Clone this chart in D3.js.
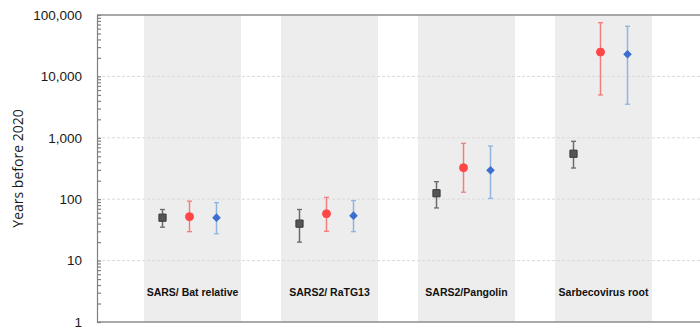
<!DOCTYPE html>
<html>
<head>
<meta charset="utf-8">
<script src="https://cdn.jsdelivr.net/npm/d3@7"></script>
<style>
  body { margin: 0; background: #fff; }
  svg { display: block; font-family: "Open Sans", sans-serif; }
</style>
</head>
<body>
<div class="chart"></div>
<script>
const groups = ["SARS/ Bat relative", "SARS2/ RaTG13", "SARS2/Pangolin", "Sarbecovirus root"];
const series = ["black", "red", "blue"];

// central estimate, lower and upper bound per group
const blackMid = [50, 40, 125, 550];
const blackLow = [35, 20, 72, 322];
const blackHigh = [68, 68, 193, 877];

const redMid = [52, 58, 326, 24900];
const redLow = [29.6, 30, 130, 4980];
const redHigh = [93, 107, 813, 75000];

const blueMid = [50, 54, 296, 22900];
const blueLow = [27.4, 29.6, 103, 3520];
const blueHigh = [88, 95, 735, 65500];

const yTicks = [1, 10, 100, 1000, 10000, 100000];

const W = 700, H = 329;
const plot = { left: 97, top: 15, bottom: 322, right: 700 };

const svg = d3.select(".chart").append("svg")
  .attr("width", W)
  .attr("height", H);

const xScale = d3.scaleBand()
  .domain(groups)
  .range([124, 672])
  .paddingInner(0.292)
  .paddingOuter(0.146);

const sScale = d3.scalePoint()
  .domain(series)
  .range([-30, 24]);

const yScale = d3.scaleLog()
  .domain([1, 100000])
  .range([plot.bottom, plot.top]);

// grey bands
svg.selectAll(".band")
  .data(groups)
  .enter()
  .append("rect")
  .attr("class", "band")
  .attr("x", d => xScale(d))
  .attr("y", plot.top)
  .attr("width", xScale.bandwidth())
  .attr("height", plot.bottom - plot.top)
  .attr("fill", "#ededed");

// dashed gridlines
svg.selectAll(".grid")
  .data(yTicks.slice(1, -1))
  .enter()
  .append("line")
  .attr("class", "grid")
  .attr("x1", plot.left)
  .attr("x2", plot.right)
  .attr("y1", d => yScale(d))
  .attr("y2", d => yScale(d))
  .attr("stroke", "#d9d9d9")
  .attr("stroke-width", 1)
  .attr("stroke-dasharray", "3,2");

// top and bottom border
svg.selectAll(".border")
  .data([yTicks[0], yTicks[yTicks.length - 1]])
  .enter()
  .append("line")
  .attr("class", "border")
  .attr("x1", plot.left)
  .attr("x2", plot.right)
  .attr("y1", d => yScale(d))
  .attr("y2", d => yScale(d))
  .attr("stroke", "#8c8c8c")
  .attr("stroke-width", 1.5);

// labels on the left
const yAxis = d3.axisLeft(yScale)
  .tickValues(yTicks)
  .tickSize(0)
  .tickPadding(15)
  .tickFormat(d3.format(","));

svg.append("g")
  .attr("class", "axis y-axis")
  .attr("transform", `translate(${plot.left},0)`)
  .call(yAxis)
  .call(g => g.select(".domain").remove())
  .selectAll("text")
  .attr("font-size", "13.5px")
  .attr("fill", "#1a1a1a");

// minor ticks inside the axis
const minor = [];
yTicks.slice(0, -1).forEach(t => {
  for (let k = 1; k < 10; k++) minor.push(t * k);
});
minor.push(100000);

const yMinor = d3.axisRight(yScale)
  .tickValues(minor)
  .tickSize(4)
  .tickFormat("");

svg.append("g")
  .attr("class", "axis y-minor")
  .attr("transform", `translate(${plot.left},0)`)
  .call(yMinor)
  .call(g => g.selectAll("line, path").attr("stroke", "#7f7f7f").attr("stroke-width", 1.2));

svg.append("text")
  .attr("class", "y-axis-title")
  .attr("text-anchor", "middle")
  .attr("transform", `translate(23, ${(plot.top + plot.bottom) / 2}) rotate(-90)`)
  .attr("font-size", "14px")
  .attr("fill", "#1a1a1a")
  .text("Years before 2020");

// group labels
svg.selectAll(".group-label")
  .data(groups)
  .enter()
  .append("text")
  .attr("class", "group-label")
  .attr("x", d => xScale(d) + xScale.bandwidth() / 2)
  .attr("y", 296)
  .attr("text-anchor", "middle")
  .attr("font-family", "'Liberation Sans', sans-serif")
  .attr("font-weight", "bold")
  .attr("font-size", "10.5px")
  .attr("fill", "#111")
  .text(d => d);

const seriesData = [
  { key: "black", mid: blackMid, low: blackLow, high: blackHigh, bar: "#6b6b6b", fill: "#555", stroke: "#3a3a3a", shape: d3.symbolSquare, size: 52, rot: 0 },
  { key: "red", mid: redMid, low: redLow, high: redHigh, bar: "#f37e7e", fill: "#ff4646", stroke: "#ff4646", shape: d3.symbolCircle, size: 50, rot: 0 },
  { key: "blue", mid: blueMid, low: blueLow, high: blueHigh, bar: "#8fb5dc", fill: "#3a6fcf", stroke: "#3a6fcf", shape: d3.symbolSquare, size: 26, rot: 45 }
];

const cx = (s, i) => xScale(groups[i]) + xScale.bandwidth() / 2 + sScale(s.key);

seriesData.forEach(s => {
  const pts = groups.map((g, i) => ({ i, mid: s.mid[i], low: s.low[i], high: s.high[i] }));
  const g = svg.append("g").attr("class", "series " + s.key);

  g.selectAll(".err")
    .data(pts)
    .enter()
    .append("line")
    .attr("class", "err")
    .attr("x1", d => cx(s, d.i))
    .attr("x2", d => cx(s, d.i))
    .attr("y1", d => yScale(d.low))
    .attr("y2", d => yScale(d.high))
    .attr("stroke", s.bar)
    .attr("stroke-width", 1.5);

  ["low", "high"].forEach(end => {
    g.selectAll(".cap-" + end)
      .data(pts)
      .enter()
      .append("line")
      .attr("class", "cap-" + end)
      .attr("x1", d => cx(s, d.i) - 2.5)
      .attr("x2", d => cx(s, d.i) + 2.5)
      .attr("y1", d => yScale(d[end]))
      .attr("y2", d => yScale(d[end]))
      .attr("stroke", s.bar)
      .attr("stroke-width", 1.3);
  });

  g.selectAll(".marker")
    .data(pts)
    .enter()
    .append("path")
    .attr("class", "marker")
    .attr("d", d3.symbol().type(s.shape).size(s.size))
    .attr("transform", d => `translate(${cx(s, d.i)},${yScale(d.mid)}) rotate(${s.rot})`)
    .attr("fill", s.fill)
    .attr("stroke", s.stroke)
    .attr("stroke-width", 1);
});
</script>
</body>
</html>
